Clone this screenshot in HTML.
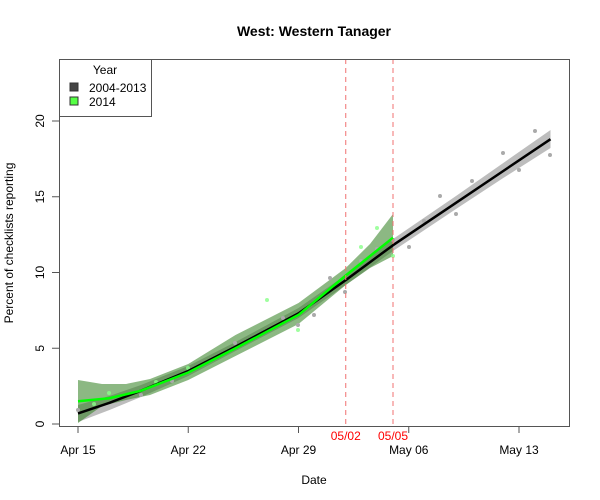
<!DOCTYPE html>
<html><head><meta charset="utf-8"><style>body{margin:0;background:#fff}svg{display:block}text{font-family:"Liberation Sans",Arial,sans-serif}</style></head><body>
<svg width="600" height="500" viewBox="0 0 600 500">
<text x="314" y="36" font-size="14" font-weight="bold" text-anchor="middle">West: Western Tanager</text>
<path d="M78,405 L109.5,396 L141,385 L188.25,366 L235.5,342 L298.5,308 L345.75,275 L393,239 L456,196 L503.25,163 L550.5,130 L550.5,148 L503.25,178 L456,209 L393,251 L345.75,285 L298.5,318 L235.5,351 L188.25,376 L141,397 L109.5,410 L78,422 Z" fill="#bdbdbd"/>
<path d="M78,380 L102,384 L126,384 L150,379 L188.25,364 L235.5,335 L298.5,303 L345.75,268 L370,244 L393,214 L393,256 L370,268 L345.75,285 L298.5,324 L235.5,356 L188.25,380 L150,395 L126,400 L102,406 L78,423 Z" fill="#2e7d1e" fill-opacity="0.55"/>
<g fill="#aaa">
<circle cx="78" cy="410" r="2"/><circle cx="141" cy="395" r="2"/><circle cx="172" cy="381" r="2"/><circle cx="235" cy="343" r="2"/><circle cx="283" cy="318" r="2"/><circle cx="298" cy="325" r="2"/><circle cx="314" cy="315" r="2"/><circle cx="330" cy="278" r="2"/><circle cx="345" cy="292" r="2"/><circle cx="361" cy="261" r="2"/><circle cx="377" cy="249" r="2"/><circle cx="393" cy="240" r="2"/><circle cx="409" cy="247" r="2"/><circle cx="424" cy="221" r="2"/><circle cx="440" cy="196" r="2"/><circle cx="456" cy="214" r="2"/><circle cx="472" cy="181" r="2"/><circle cx="503" cy="153" r="2"/><circle cx="519" cy="170" r="2"/><circle cx="535" cy="131" r="2"/><circle cx="550" cy="155" r="2"/></g>
<g fill="#8f8" fill-opacity="0.8">
<circle cx="94" cy="404" r="2"/><circle cx="109" cy="393" r="2"/><circle cx="156" cy="382" r="2"/><circle cx="188" cy="368" r="2"/><circle cx="267" cy="300" r="2"/><circle cx="298" cy="330" r="2"/><circle cx="361" cy="247" r="2"/><circle cx="377" cy="228" r="2"/><circle cx="393" cy="256" r="2"/></g>
<path d="M78,413.4 L109.5,402.8 L141,390.7 L188.25,371 L235.5,346.7 L298.5,313.4 L345.75,280.1 L393,245.2 L456,202.8 L503.25,171 L550.5,139.2" fill="none" stroke="#000" stroke-width="2.5" stroke-linejoin="round"/>
<path d="M78,401.3 L109.5,398.2 L141,390.7 L188.25,372.5 L235.5,348.3 L298.5,314.9 L345.75,275.5 L393,237.7" fill="none" stroke="#00ff00" stroke-width="2.5" stroke-linejoin="round"/>
<line x1="345.75" y1="59" x2="345.75" y2="426" stroke="#f07070" stroke-dasharray="5,4"/>
<line x1="393" y1="59" x2="393" y2="426" stroke="#f07070" stroke-dasharray="5,4"/>
<rect x="59.5" y="59.5" width="510" height="367" fill="none" stroke="#555"/>
<g stroke="#555"><line x1="52" y1="424" x2="59" y2="424"/><line x1="52" y1="348.25" x2="59" y2="348.25"/><line x1="52" y1="272.5" x2="59" y2="272.5"/><line x1="52" y1="196.75" x2="59" y2="196.75"/><line x1="52" y1="121" x2="59" y2="121"/>
<line x1="78" y1="426" x2="78" y2="433"/><line x1="188.25" y1="426" x2="188.25" y2="433"/><line x1="298.5" y1="426" x2="298.5" y2="433"/><line x1="408.75" y1="426" x2="408.75" y2="433"/><line x1="519" y1="426" x2="519" y2="433"/></g>
<g font-size="12" text-anchor="middle">
<text transform="translate(44,424) rotate(-90)">0</text><text transform="translate(44,348.25) rotate(-90)">5</text><text transform="translate(44,272.5) rotate(-90)">10</text><text transform="translate(44,196.75) rotate(-90)">15</text><text transform="translate(44,121) rotate(-90)">20</text>
<text x="78" y="454">Apr 15</text><text x="188.25" y="454">Apr 22</text><text x="298.5" y="454">Apr 29</text><text x="408.75" y="454">May 06</text><text x="519" y="454">May 13</text>
<text x="345.75" y="440" fill="red">05/02</text><text x="393" y="440" fill="red">05/05</text>
<text x="314" y="484">Date</text>
<text transform="translate(13,243) rotate(-90)">Percent of checklists reporting</text></g>
<rect x="59.5" y="59.5" width="92" height="57" fill="#fff" stroke="#555"/>
<text x="105" y="74" font-size="12" text-anchor="middle">Year</text>
<rect x="70" y="83" width="8" height="8" fill="#444" stroke="#333"/>
<text x="89" y="92" font-size="12">2004-2013</text>
<rect x="70" y="97" width="8" height="8" fill="#55ff44" stroke="#333"/>
<text x="89" y="106" font-size="12">2014</text>
</svg>
</body></html>
